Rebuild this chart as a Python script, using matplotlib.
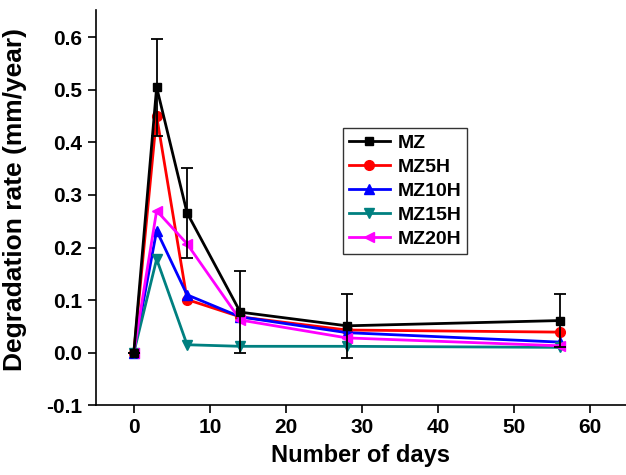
import matplotlib
matplotlib.use("Agg")
import matplotlib.pyplot as plt

plt.rcParams["font.family"] = ["Liberation Sans", "DejaVu Sans"]
plt.rcParams["font.weight"] = "bold"

days = [0, 3, 7, 14, 28, 56]
mz = [0.0, 0.505, 0.266, 0.077, 0.051, 0.061]
mz_err = [0.0, 0.092, 0.085, 0.078, 0.061, 0.051]
mz5h = [0.0, 0.450, 0.101, 0.068, 0.043, 0.039]
mz10h = [0.0, 0.232, 0.110, 0.068, 0.038, 0.020]
mz15h = [0.0, 0.178, 0.015, 0.012, 0.012, 0.010]
mz20h = [0.0, 0.270, 0.207, 0.062, 0.028, 0.013]

fig = plt.figure(figsize=(6.26, 4.75), dpi=100)
ax = fig.add_axes([0.153, 0.147, 0.847, 0.832])

ax.plot(days, mz, "-s", color="black", lw=2, ms=6, label="MZ", zorder=5)
ax.plot(days, mz5h, "-o", color="#ff0000", lw=2, ms=7, label="MZ5H")
ax.plot(days, mz10h, "-^", color="#0000ff", lw=2, ms=7, label="MZ10H")
ax.plot(days, mz15h, "-v", color="#008080", lw=2, ms=7, label="MZ15H")
ax.plot(days, mz20h, "-<", color="#ff00ff", lw=2, ms=7, label="MZ20H")
ax.errorbar(days, mz, yerr=mz_err, fmt="none", ecolor="black",
            elinewidth=1.3, capsize=4, capthick=1.3, zorder=5)

leg = ax.legend(loc="upper left", bbox_to_anchor=(0.466, 0.701), fancybox=False,
                edgecolor="black", fontsize=14, handlelength=2.1,
                labelspacing=0.33, borderpad=0.3, handletextpad=0.4,
                borderaxespad=0)
leg.get_frame().set_linewidth(1.0)

ax.set_xlim(-5, 64.7)
ax.set_ylim(-0.1, 0.652)
ax.set_xticks([0, 10, 20, 30, 40, 50, 60])
ax.set_yticks([-0.1, 0.0, 0.1, 0.2, 0.3, 0.4, 0.5, 0.6])
ax.set_yticklabels(["-0.1", "0.0", "0.1", "0.2", "0.3", "0.4", "0.5", "0.6"])
ax.tick_params(labelsize=15, width=1.2, length=6, direction="out")
ax.spines["top"].set_visible(False)
ax.spines["right"].set_visible(False)
ax.spines["left"].set_linewidth(1.2)
ax.spines["bottom"].set_linewidth(1.2)

ax.set_xlabel("Number of days", fontsize=17, fontweight="bold", labelpad=5)
ax.set_ylabel("Degradation rate (mm/year)", fontsize=19, fontweight="bold",
              labelpad=6)
ax.yaxis.set_label_coords(-0.13, 0.52)

fig.savefig("out.png", dpi=100)
